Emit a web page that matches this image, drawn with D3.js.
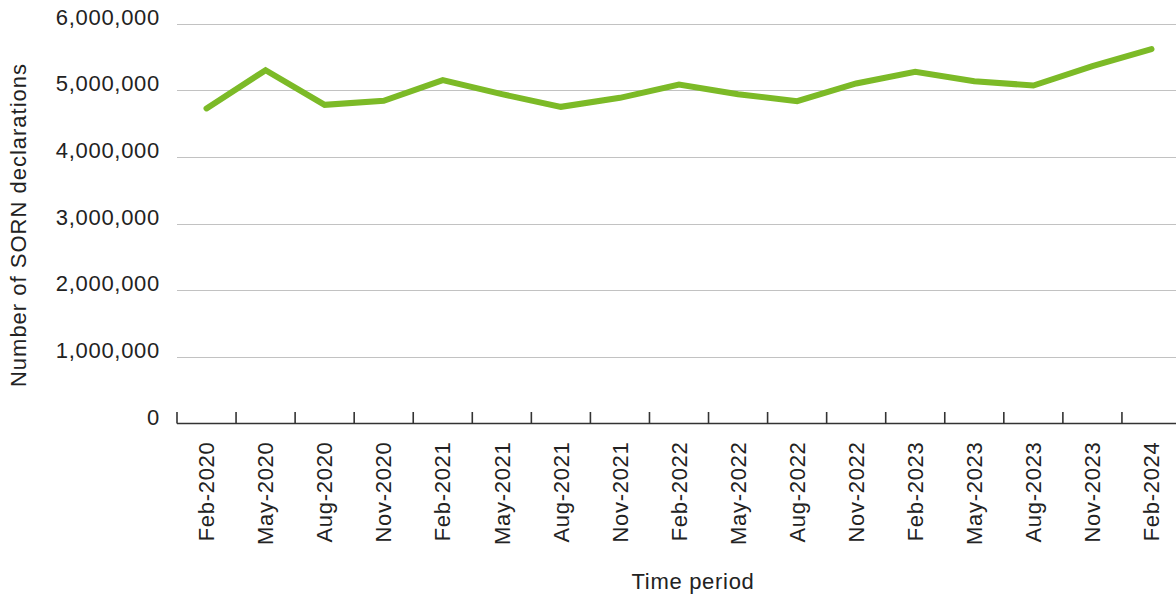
<!DOCTYPE html>
<html>
<head>
<meta charset="utf-8">
<script src="https://cdn.jsdelivr.net/npm/d3@7"></script>
<style>
  html, body { margin: 0; padding: 0; background: #fff; }
  svg text { font-family: "Liberation Sans", Arial, sans-serif; fill: #222; font-size: 22px; letter-spacing: 0.7px; }
</style>
</head>
<body>
<svg id="chart" width="1176" height="597"></svg>
<script>
// Quarterly SORN declarations, Feb 2020 – Feb 2024
const periods = ["Feb-2020", "May-2020", "Aug-2020", "Nov-2020", "Feb-2021", "May-2021",
  "Aug-2021", "Nov-2021", "Feb-2022", "May-2022", "Aug-2022", "Nov-2022",
  "Feb-2023", "May-2023", "Aug-2023", "Nov-2023", "Feb-2024"];
const sornCounts = [4726000, 5300000, 4780000, 4840000, 5150000, 4940000,
  4750000, 4885000, 5085000, 4940000, 4835000, 5100000,
  5275000, 5135000, 5070000, 5360000, 5615000];
const yTicks = [0, 1000000, 2000000, 3000000, 4000000, 5000000, 6000000];

const svg = d3.select("#chart");
const plotLeft = 177, plotRight = 1181, plotTop = 23.5, plotBottom = 423.5;

const x = d3.scaleBand().domain(periods).range([plotLeft, plotRight]).paddingInner(0).paddingOuter(0);
const y = d3.scaleLinear().domain([0, 6000000]).range([plotBottom, plotTop]);
const fmt = d3.format(",");

// Horizontal gridlines
svg.append("g")
  .selectAll("line")
  .data(yTicks.filter(d => d > 0))
  .join("line")
  .attr("x1", plotLeft).attr("x2", 1176)
  .attr("y1", d => Math.round(y(d)) + 0.5).attr("y2", d => Math.round(y(d)) + 0.5)
  .attr("stroke", "#c2c2c2").attr("stroke-width", 1.2);

// Y tick labels, sitting just above their gridlines
svg.append("g")
  .selectAll("text")
  .data(yTicks)
  .join("text")
  .attr("x", 160).attr("y", d => y(d) + 1)
  .attr("text-anchor", "end")
  .text(d => fmt(d));

// X axis with inward ticks at category boundaries
const xAxis = svg.append("g");
xAxis.append("line")
  .attr("x1", plotLeft).attr("x2", 1176)
  .attr("y1", plotBottom).attr("y2", plotBottom)
  .attr("stroke", "#333").attr("stroke-width", 1.6);
const boundaries = periods.map(p => x(p));
xAxis.selectAll("line.tick")
  .data(boundaries)
  .join("line")
  .attr("class", "tick")
  .attr("x1", d => d).attr("x2", d => d)
  .attr("y1", plotBottom).attr("y2", plotBottom - 11.5)
  .attr("stroke", "#333").attr("stroke-width", 1.6);

// Rotated category labels
xAxis.selectAll("text")
  .data(periods)
  .join("text")
  .attr("transform", d => `translate(${x(d) + x.bandwidth() / 2},${plotBottom + 18}) rotate(-90)`)
  .attr("text-anchor", "end")
  .attr("dy", "0.35em")
  .text(d => d);

// Series line
const line = d3.line()
  .x((d, i) => x(periods[i]) + x.bandwidth() / 2)
  .y(d => y(d));
svg.append("path")
  .datum(sornCounts)
  .attr("d", line)
  .attr("fill", "none")
  .attr("stroke", "#7cba27")
  .attr("stroke-width", 6)
  .attr("stroke-linejoin", "miter")
  .attr("stroke-linecap", "round");

// Axis titles
svg.append("text")
  .attr("x", 693).attr("y", 589)
  .attr("text-anchor", "middle")
  .text("Time period");

svg.append("text")
  .attr("transform", "translate(26,225) rotate(-90)")
  .attr("text-anchor", "middle")
  .style("letter-spacing", "1px")
  .text("Number of SORN declarations");
</script>
</body>
</html>
